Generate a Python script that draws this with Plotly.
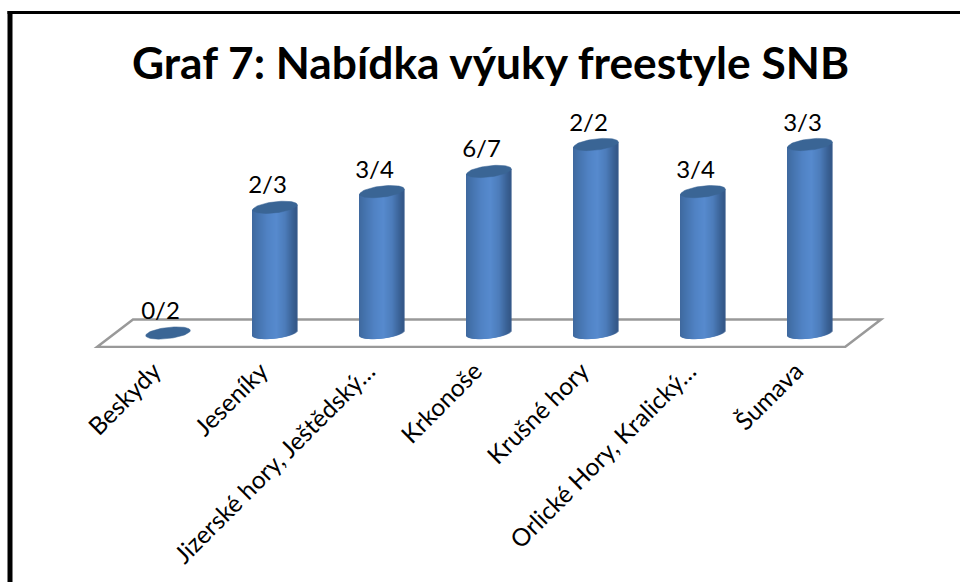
import math
import plotly.graph_objects as go

categories = ["Beskydy", "Jeseníky", "Jizerské hory, Ještědský…", "Krkonoše",
              "Krušné hory", "Orlické Hory, Kralický…", "Šumava"]
numerators = [0, 2, 3, 6, 2, 3, 3]
denominators = [2, 3, 4, 7, 2, 4, 3]
title_text = "Graf 7: Nabídka výuky freestyle SNB"

W, H = 960, 582
PLOT_H = 348
ZERO_PX = 333.0     # pixel row of value 0
UNIT_PY = 188.5     # pixels for value 1
X0_PX = 168.0       # pixel column of first category
UNIT_PX = 107.0     # pixels per category

xr = [-X0_PX / UNIT_PX, (W - X0_PX) / UNIT_PX]
yr = [-(PLOT_H - ZERO_PX) / UNIT_PY, ZERO_PX / UNIT_PY]

def dx(px):
    return px / UNIT_PX
def dy(px):
    return px / UNIT_PY
def X(px):
    return (px - X0_PX) / UNIT_PX
def Y(py):
    return (ZERO_PX - py) / UNIT_PY

values = [n / d for n, d in zip(numerators, denominators)]
labels = [f"{n}/{d}" for n, d in zip(numerators, denominators)]

HALF_W = 22.3   # cylinder half-width, px
ELL_B = 5.6     # ellipse half-height, px
TILT = 2.5      # rise at the right end, px

stops = [(0.0, (62, 104, 158)), (0.12, (68, 114, 172)), (0.35, (80, 130, 196)),
         (0.55, (86, 138, 206)), (0.75, (76, 124, 186)), (0.92, (58, 98, 150)),
         (1.0, (52, 88, 136))]

def shade(t):
    for (t0, c0), (t1, c1) in zip(stops, stops[1:]):
        if t <= t1:
            f = (t - t0) / (t1 - t0)
            return "rgb(%d,%d,%d)" % tuple(round(a + (b - a) * f) for a, b in zip(c0, c1))
    return "rgb(%d,%d,%d)" % stops[-1][1]

fig = go.Figure()

# cylinder bodies: one thin bar per column of pixels
sx, sbase, sh, sw, sc = [], [], [], [], []
STEP = 1.0
N = int(2 * HALF_W / STEP)
for i, v in enumerate(values):
    if v <= 0:
        continue
    for k in range(N):
        u = (k + 0.5) / N * 2 - 1
        centre = TILT * u
        low = dy(centre - ELL_B * math.sqrt(1 - u * u))
        top = v + dy(centre)
        sx.append(i + dx(u * HALF_W))
        sbase.append(low)
        sh.append(top - low)
        sw.append(dx(STEP * 1.6))
        sc.append(shade((u + 1) / 2))
fig.add_trace(go.Bar(x=sx, y=sh, base=sbase, width=sw,
                     marker=dict(color=sc, line=dict(width=0)), hoverinfo="skip"))

# top caps
for i, v in enumerate(values):
    ex, ey = [], []
    for a in range(0, 73):
        t = a * math.pi * 2 / 72
        u = math.cos(t)
        ex.append(i + dx(HALF_W * u))
        ey.append(v + dy(TILT * u + ELL_B * math.sin(t)))
    fig.add_trace(go.Scatter(x=ex, y=ey, mode="lines", fill="toself", fillcolor="#3A6595",
                             line=dict(color="#3A6595", width=0.5), hoverinfo="skip"))

# data labels
fig.add_trace(go.Scatter(x=[i - dx(7.5) for i in range(len(values))],
                         y=[v + dy(20) for v in values],
                         mode="text", text=labels, textposition="middle center",
                         textfont=dict(family="Lato", size=24, color="#000000"),
                         hoverinfo="skip"))

# floor
floor = [(97, 347), (845, 347), (881, 319.5), (133, 319.5)]
path = "M " + " L ".join(f"{X(a):.5f},{Y(b):.5f}" for a, b in floor) + " Z"
shapes = [dict(type="path", xref="x", yref="y", path=path, layer="below",
               line=dict(color="#999999", width=2.5), fillcolor="rgba(0,0,0,0)")]

# frame
shapes += [
    dict(type="rect", xref="paper", yref="paper", x0=7.5 / W, x1=12.5 / W,
         y0=(PLOT_H - H) / PLOT_H, y1=(PLOT_H - 11) / PLOT_H,
         fillcolor="#000000", line=dict(width=0)),
    dict(type="rect", xref="paper", yref="paper", x0=7.5 / W, x1=1.0,
         y0=(PLOT_H - 14) / PLOT_H, y1=(PLOT_H - 11) / PLOT_H,
         fillcolor="#000000", line=dict(width=0)),
]

fig.update_layout(
    width=W, height=H, autosize=False,
    margin=dict(l=0, r=0, t=0, b=H - PLOT_H, pad=0),
    paper_bgcolor="white", plot_bgcolor="rgba(0,0,0,0)",
    showlegend=False, barmode="overlay", hovermode=False,
    shapes=shapes,
    annotations=[dict(text=f"<b>{title_text}</b>", xref="paper", yref="paper",
                      x=490.5 / W, y=(PLOT_H - 62) / PLOT_H, xanchor="center", yanchor="middle",
                      showarrow=False, font=dict(family="Lato", size=44.3, color="#000000"))],
    xaxis=dict(range=xr, fixedrange=True, showgrid=False, zeroline=False, showline=False,
               ticks="", tickmode="array", tickvals=[i - 0.13 for i in range(len(categories))],
               ticktext=categories, tickangle=-45, ticklabelstandoff=3,
               tickfont=dict(family="Lato", size=24.5, color="#000000"), automargin=False),
    yaxis=dict(range=yr, fixedrange=True, visible=False, automargin=False),
)
fig.write_html("out.html", config=dict(displayModeBar=False),
               post_script="document.body.style.margin='0';document.documentElement.style.overflow='hidden';")
